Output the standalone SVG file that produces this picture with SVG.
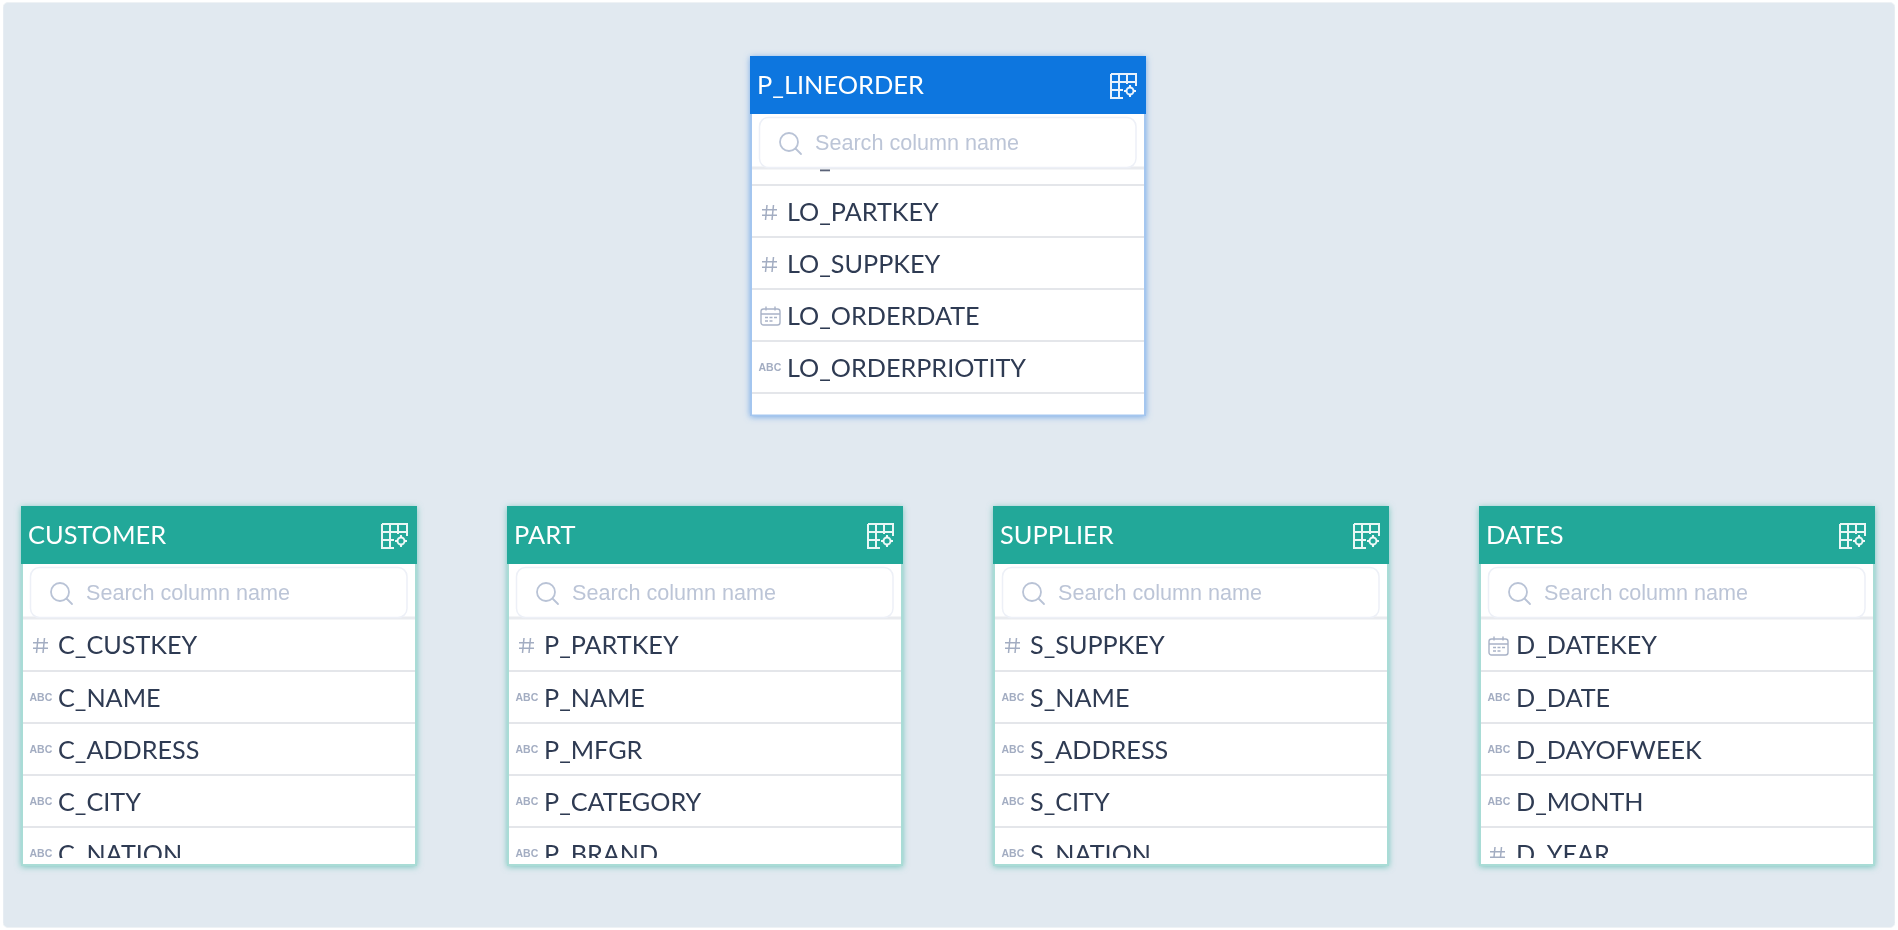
<svg xmlns="http://www.w3.org/2000/svg" width="1898" height="930" viewBox="0 0 1898 930">
<style>
.panel{fill:#e1e9f0;stroke:#eef2f5;stroke-width:1}
.body{fill:#fff}
.hdr-text{font:400 25.4px Lato,"Liberation Sans",sans-serif;fill:#fff}
.row-text{font:400 25.2px Lato,"Liberation Sans",sans-serif;fill:#2f3a52}
.abc{font:700 10.5px "Liberation Sans",Arial,sans-serif;fill:#a3adc2}
.search-text{font:400 21.6px "Liberation Sans",Arial,sans-serif;fill:#bcc5d7}
.search-box{fill:#fff;stroke:#edf0f7;stroke-width:1.500}
.search-icon{fill:none;stroke:#b9c3d6;stroke-width:1.800;stroke-linecap:round}
.sep{stroke:#e4e6ea;stroke-width:2}
.sep-top{stroke:#e9ebef;stroke-width:3}
.grid{fill:none;stroke:#fff;stroke-width:2;opacity:.9}
.hash{fill:none;stroke:#a3adc2;stroke-width:1.500}
.cal{fill:none;stroke:#a9b3c7;stroke-width:1.400}
.blue .frame{fill:#a4c6ef;filter:url(#glowB)}
.teal .frame{fill:#a9dcd6;filter:url(#glowT)}
.blue .head{fill:#0a76df}
.teal .head{fill:#24a899}
</style>
<defs>
<filter id="soft" x="0" y="0" width="100%" height="100%"><feGaussianBlur stdDeviation="0.45"/></filter>
<filter id="glowB" x="-5%" y="-5%" width="110%" height="110%"><feGaussianBlur in="SourceAlpha" stdDeviation="3" result="b"/><feOffset in="b" dy="1" result="o"/><feFlood flood-color="#6ba3e6" flood-opacity=".9"/><feComposite in2="o" operator="in"/><feMerge><feMergeNode/><feMergeNode in="SourceGraphic"/></feMerge></filter>
<filter id="glowT" x="-5%" y="-5%" width="110%" height="110%"><feGaussianBlur in="SourceAlpha" stdDeviation="3" result="b"/><feOffset in="b" dy="1" result="o"/><feFlood flood-color="#6cc2b8" flood-opacity=".9"/><feComposite in2="o" operator="in"/><feMerge><feMergeNode/><feMergeNode in="SourceGraphic"/></feMerge></filter>
<symbol id="gear-grid" overflow="visible">
<path class="grid" d="M1 1H26V13M1 1V25H13M1 9H26M1 17H13M9 1V25M17 1V11"/>
<circle class="grid" cx="20" cy="18" r="3.500"/>
<path class="grid" d="M20 12v2.500M20 21.500V24M14 18h2.500M23.500 18H26"/>
</symbol>
<symbol id="search" overflow="visible"><circle class="search-icon" cx="9" cy="9" r="9"/><path class="search-icon" d="M15.500 15.500L21 21"/></symbol>
<symbol id="hash" overflow="visible"><path class="hash" d="M5 0L3.500 15M11.500 0L10 15M0 4.700H15M0 10.300H15"/></symbol>
<symbol id="calendar" overflow="visible"><rect class="cal" x="1" y="3" width="19" height="16" rx="2.500"/><path class="cal" d="M1 8H20M6 0.500V4.500M15 0.500V4.500M5 11.500H8M9.500 11.500H12.500M14 11.500H17M5 15H8M9.500 15H12.500"/></symbol>
<clipPath id="clip-b"><rect x="0" y="618" width="1898" height="240"/></clipPath>
</defs>
<g filter="url(#soft)">
<rect class="panel" x="3" y="2.500" width="1892" height="925" rx="5"/>
<g id="connectors"/>
<g id="node-p-lineorder" class="blue">
<rect class="frame" x="750" y="56" width="396" height="360"/>
<rect class="body" x="752" y="113" width="392" height="301.500"/>
<rect class="head" x="750" y="56" width="396" height="58"/>
<text class="hdr-text" x="757" y="94">P_LINEORDER</text>
<use href="#gear-grid" x="1110" y="73"/>
<line class="sep-top" x1="752" y1="168" x2="1144" y2="168"/>
<line class="sep" x1="752" y1="185" x2="1144" y2="185"/>
<line class="sep" x1="752" y1="237" x2="1144" y2="237"/>
<line class="sep" x1="752" y1="289" x2="1144" y2="289"/>
<line class="sep" x1="752" y1="341" x2="1144" y2="341"/>
<line class="sep" x1="752" y1="393" x2="1144" y2="393"/>
<rect x="820" y="169.500" width="10" height="1.800" fill="#5a6478"/>
<rect class="search-box" x="759.500" y="117.500" width="376.500" height="50" rx="9"/>
<use href="#search" x="780" y="133"/>
<text class="search-text" x="815" y="150">Search column name</text>
<use href="#hash" x="762" y="205"/><text class="row-text" x="787" y="220.600">LO_PARTKEY</text>
<use href="#hash" x="762" y="257"/><text class="row-text" x="787" y="272.600">LO_SUPPKEY</text>
<use href="#calendar" x="760" y="306"/><text class="row-text" x="787" y="324.600">LO_ORDERDATE</text>
<text class="abc" x="758.500" y="371">ABC</text><text class="row-text" x="787" y="376.600">LO_ORDERPRIOTITY</text>
</g>
<g id="node-customer" class="teal">
<rect class="frame" x="21" y="506" width="396" height="360"/>
<rect class="body" x="23" y="563" width="392" height="301"/>
<rect class="head" x="21" y="506" width="396" height="58"/>
<text class="hdr-text" x="28" y="544">CUSTOMER</text>
<use href="#gear-grid" x="381" y="523"/>
<line class="sep-top" x1="23" y1="618" x2="415" y2="618"/>
<line class="sep" x1="23" y1="671" x2="415" y2="671"/>
<line class="sep" x1="23" y1="723" x2="415" y2="723"/>
<line class="sep" x1="23" y1="775" x2="415" y2="775"/>
<line class="sep" x1="23" y1="827" x2="415" y2="827"/>
<rect class="search-box" x="30.500" y="567.500" width="376.500" height="50" rx="9"/>
<use href="#search" x="51" y="583"/>
<text class="search-text" x="86" y="600">Search column name</text>
<g clip-path="url(#clip-b)">
<use href="#hash" x="33" y="638"/><text class="row-text" x="58" y="654">C_CUSTKEY</text>
<text class="abc" x="29.500" y="701">ABC</text><text class="row-text" x="58" y="706.600">C_NAME</text>
<text class="abc" x="29.500" y="753">ABC</text><text class="row-text" x="58" y="758.600">C_ADDRESS</text>
<text class="abc" x="29.500" y="805">ABC</text><text class="row-text" x="58" y="810.600">C_CITY</text>
<text class="abc" x="29.500" y="857">ABC</text><text class="row-text" x="58" y="862.600">C_NATION</text>
</g>
</g>
<g id="node-part" class="teal">
<rect class="frame" x="507" y="506" width="396" height="360"/>
<rect class="body" x="509" y="563" width="392" height="301"/>
<rect class="head" x="507" y="506" width="396" height="58"/>
<text class="hdr-text" x="514" y="544">PART</text>
<use href="#gear-grid" x="867" y="523"/>
<line class="sep-top" x1="509" y1="618" x2="901" y2="618"/>
<line class="sep" x1="509" y1="671" x2="901" y2="671"/>
<line class="sep" x1="509" y1="723" x2="901" y2="723"/>
<line class="sep" x1="509" y1="775" x2="901" y2="775"/>
<line class="sep" x1="509" y1="827" x2="901" y2="827"/>
<rect class="search-box" x="516.500" y="567.500" width="376.500" height="50" rx="9"/>
<use href="#search" x="537" y="583"/>
<text class="search-text" x="572" y="600">Search column name</text>
<g clip-path="url(#clip-b)">
<use href="#hash" x="519" y="638"/><text class="row-text" x="544" y="654">P_PARTKEY</text>
<text class="abc" x="515.500" y="701">ABC</text><text class="row-text" x="544" y="706.600">P_NAME</text>
<text class="abc" x="515.500" y="753">ABC</text><text class="row-text" x="544" y="758.600">P_MFGR</text>
<text class="abc" x="515.500" y="805">ABC</text><text class="row-text" x="544" y="810.600">P_CATEGORY</text>
<text class="abc" x="515.500" y="857">ABC</text><text class="row-text" x="544" y="862.600">P_BRAND</text>
</g>
</g>
<g id="node-supplier" class="teal">
<rect class="frame" x="993" y="506" width="396" height="360"/>
<rect class="body" x="995" y="563" width="392" height="301"/>
<rect class="head" x="993" y="506" width="396" height="58"/>
<text class="hdr-text" x="1000" y="544">SUPPLIER</text>
<use href="#gear-grid" x="1353" y="523"/>
<line class="sep-top" x1="995" y1="618" x2="1387" y2="618"/>
<line class="sep" x1="995" y1="671" x2="1387" y2="671"/>
<line class="sep" x1="995" y1="723" x2="1387" y2="723"/>
<line class="sep" x1="995" y1="775" x2="1387" y2="775"/>
<line class="sep" x1="995" y1="827" x2="1387" y2="827"/>
<rect class="search-box" x="1002.500" y="567.500" width="376.500" height="50" rx="9"/>
<use href="#search" x="1023" y="583"/>
<text class="search-text" x="1058" y="600">Search column name</text>
<g clip-path="url(#clip-b)">
<use href="#hash" x="1005" y="638"/><text class="row-text" x="1030" y="654">S_SUPPKEY</text>
<text class="abc" x="1001.500" y="701">ABC</text><text class="row-text" x="1030" y="706.600">S_NAME</text>
<text class="abc" x="1001.500" y="753">ABC</text><text class="row-text" x="1030" y="758.600">S_ADDRESS</text>
<text class="abc" x="1001.500" y="805">ABC</text><text class="row-text" x="1030" y="810.600">S_CITY</text>
<text class="abc" x="1001.500" y="857">ABC</text><text class="row-text" x="1030" y="862.600">S_NATION</text>
</g>
</g>
<g id="node-dates" class="teal">
<rect class="frame" x="1479" y="506" width="396" height="360"/>
<rect class="body" x="1481" y="563" width="392" height="301"/>
<rect class="head" x="1479" y="506" width="396" height="58"/>
<text class="hdr-text" x="1486" y="544">DATES</text>
<use href="#gear-grid" x="1839" y="523"/>
<line class="sep-top" x1="1481" y1="618" x2="1873" y2="618"/>
<line class="sep" x1="1481" y1="671" x2="1873" y2="671"/>
<line class="sep" x1="1481" y1="723" x2="1873" y2="723"/>
<line class="sep" x1="1481" y1="775" x2="1873" y2="775"/>
<line class="sep" x1="1481" y1="827" x2="1873" y2="827"/>
<rect class="search-box" x="1488.500" y="567.500" width="376.500" height="50" rx="9"/>
<use href="#search" x="1509" y="583"/>
<text class="search-text" x="1544" y="600">Search column name</text>
<g clip-path="url(#clip-b)">
<use href="#calendar" x="1488" y="636"/><text class="row-text" x="1516" y="654">D_DATEKEY</text>
<text class="abc" x="1487.500" y="701">ABC</text><text class="row-text" x="1516" y="706.600">D_DATE</text>
<text class="abc" x="1487.500" y="753">ABC</text><text class="row-text" x="1516" y="758.600">D_DAYOFWEEK</text>
<text class="abc" x="1487.500" y="805">ABC</text><text class="row-text" x="1516" y="810.600">D_MONTH</text>
<use href="#hash" x="1490" y="847"/><text class="row-text" x="1516" y="862.600">D_YEAR</text>
</g>
</g>
</g>
</svg>
